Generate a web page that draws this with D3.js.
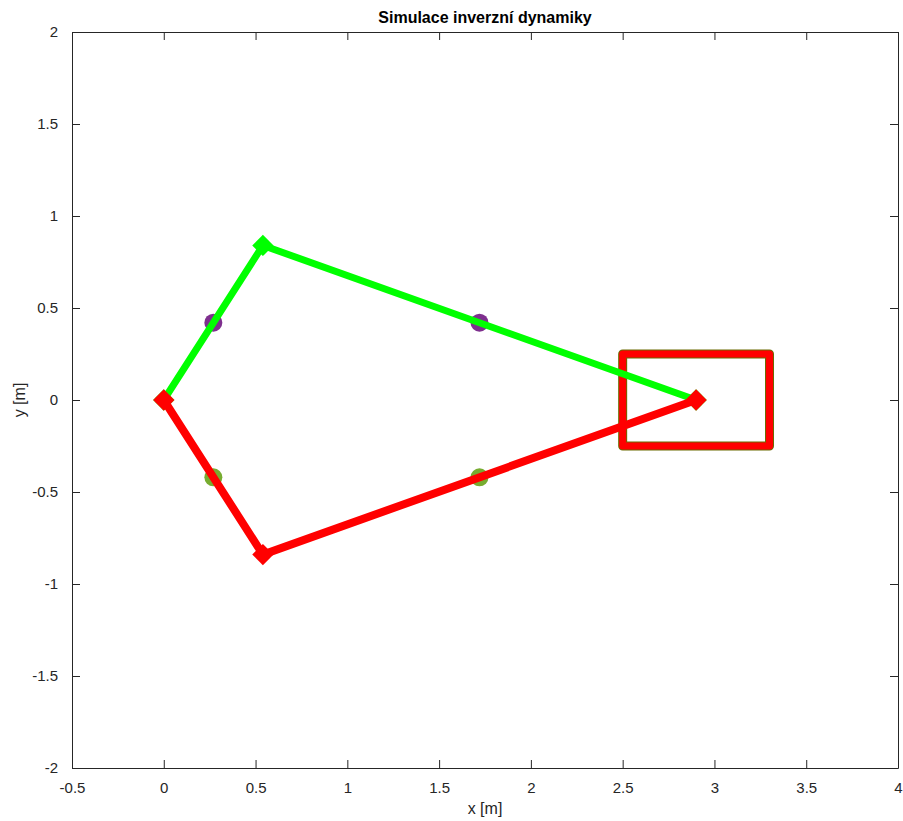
<!DOCTYPE html>
<html>
<head>
<meta charset="utf-8">
<script src="https://cdn.jsdelivr.net/npm/d3@7"></script>
<style>
  body { margin: 0; background: #fff; }
  text { font-family: "Liberation Sans", Arial, sans-serif; }
</style>
</head>
<body>
<div id="chart"></div>
<script>
    // ramena manipulatoru (dve konfigurace) a hmotne body
    const xTicks = [-0.5, 0, 0.5, 1, 1.5, 2, 2.5, 3, 3.5, 4];
    const yTicks = [-2, -1.5, -1, -0.5, 0, 0.5, 1, 1.5, 2];
    const armUpper = [[0, 0], [0.54, 0.84], [2.9, 0]];
    const armLower = [[0, 0], [0.54, -0.84], [2.9, 0]];
    const comUpper = [[0.27, 0.42], [1.72, 0.42]];
    const comLower = [[0.27, -0.42], [1.72, -0.42]];
    const box = [[2.5, -0.25], [3.3, 0.25]];

    const W = 903, H = 821;
    const margin = {top: 32, right: 5, bottom: 53, left: 72};
    const width = W - margin.left - margin.right;
    const height = H - margin.top - margin.bottom;

    const svg = d3.select("#chart")
        .append("svg")
        .attr("width", W)
        .attr("height", H);

    const g = svg.append("g")
        .attr("transform", "translate(" + margin.left + "," + margin.top + ")");

    const x = d3.scaleLinear().domain([-0.5, 4]).range([0, width]);
    const y = d3.scaleLinear().domain([-2, 2]).range([height, 0]);

    // axes (ticks inward, box on)
    const axStyle = sel => {
        sel.select(".domain").attr("stroke", "#262626");
        sel.selectAll(".tick line").attr("stroke", "#262626");
        sel.selectAll("text").attr("fill", "#262626").style("font-size", "15px");
    };
    const fmt = d => String(d);
    g.append("g").attr("transform", "translate(0," + height + ")")
        .call(d3.axisBottom(x).tickValues(xTicks).tickSizeInner(-8).tickSizeOuter(0).tickPadding(14).tickFormat(fmt))
        .call(axStyle);
    g.append("g")
        .call(d3.axisTop(x).tickValues(xTicks).tickSizeInner(-8).tickSizeOuter(0).tickFormat(""))
        .call(axStyle);
    g.append("g")
        .call(d3.axisLeft(y).tickValues(yTicks).tickSizeInner(-8).tickSizeOuter(0).tickPadding(14).tickFormat(fmt))
        .call(axStyle);
    g.append("g").attr("transform", "translate(" + width + ",0)")
        .call(d3.axisRight(y).tickValues(yTicks).tickSizeInner(-8).tickSizeOuter(0).tickFormat(""))
        .call(axStyle);

    const line = d3.line().x(d => x(d[0])).y(d => y(d[1]));
    const diamond = d3.symbol().type(d3.symbolDiamond2).size(290);

    // hmotne body
    g.selectAll(".comU").data(comUpper).enter().append("circle")
        .attr("cx", d => x(d[0])).attr("cy", d => y(d[1])).attr("r", 9)
        .attr("fill", "#7E2F8E");
    g.selectAll(".comL").data(comLower).enter().append("circle")
        .attr("cx", d => x(d[0])).attr("cy", d => y(d[1])).attr("r", 9)
        .attr("fill", "#77AC30");

    // bremeno (zelene pod cervenym)
    const rectAttrs = (sel, col, w) => sel
        .attr("x", x(box[0][0])).attr("y", y(box[1][1]))
        .attr("width", x(box[1][0]) - x(box[0][0]))
        .attr("height", y(box[0][1]) - y(box[1][1]))
        .attr("fill", "none").attr("stroke", col).attr("stroke-width", w)
        .attr("stroke-linejoin", "round");
    g.append("rect").call(rectAttrs, "#6b6b00", 9);
    g.append("rect").call(rectAttrs, "#ff0000", 7);

    // horni konfigurace
    g.append("path").datum(armUpper).attr("d", line)
        .attr("fill", "none").attr("stroke", "#00ff00").attr("stroke-width", 7);
    g.selectAll(".jU").data(armUpper).enter().append("path")
        .attr("transform", d => "translate(" + x(d[0]) + "," + y(d[1]) + ")")
        .attr("d", diamond).attr("fill", "#00ff00");

    // dolni konfigurace
    g.append("path").datum(armLower).attr("d", line)
        .attr("fill", "none").attr("stroke", "#ff0000").attr("stroke-width", 8);
    g.selectAll(".jL").data(armLower).enter().append("path")
        .attr("transform", d => "translate(" + x(d[0]) + "," + y(d[1]) + ")")
        .attr("d", diamond).attr("fill", "#ff0000");

    // titulky
    svg.append("text").attr("x", margin.left + width / 2).attr("y", 23)
        .attr("text-anchor", "middle").style("font-size", "16px").style("font-weight", "bold")
        .attr("fill", "#000").text("Simulace inverzní dynamiky");
    svg.append("text").attr("x", margin.left + width / 2).attr("y", 814)
        .attr("text-anchor", "middle").style("font-size", "16px")
        .attr("fill", "#262626").text("x [m]");
    svg.append("text").attr("transform", "translate(25," + (margin.top + height / 2) + ") rotate(-90)")
        .attr("text-anchor", "middle").style("font-size", "16px")
        .attr("fill", "#262626").text("y [m]");
</script>
</body>
</html>
